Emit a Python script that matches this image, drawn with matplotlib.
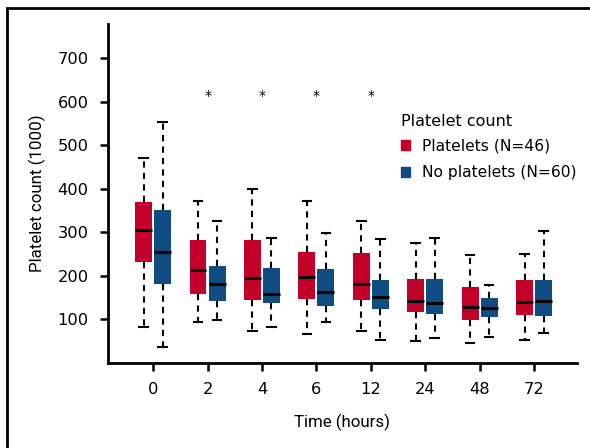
import numpy as np
import matplotlib.pyplot as plt
from matplotlib.patches import Patch, Rectangle

times = ['0', '2', '4', '6', '12', '24', '48', '72']

# whisker low, Q1, median, Q3, whisker high
plt_low = [83, 95, 74, 66, 74, 50, 46, 52]
plt_q1 = [231, 159, 144, 147, 144, 118, 98, 109]
plt_med = [306, 213, 195, 198, 182, 143, 128, 140]
plt_q3 = [370, 283, 283, 255, 252, 193, 175, 191]
plt_high = [471, 372, 400, 371, 325, 276, 248, 251]

no_low = [37, 99, 82, 94, 52, 58, 59, 68]
no_q1 = [182, 141, 137, 130, 123, 112, 105, 107]
no_med = [255, 181, 159, 163, 151, 138, 126, 141]
no_q3 = [352, 223, 218, 216, 190, 193, 149, 191]
no_high = [553, 326, 288, 298, 284, 286, 180, 303]

star_groups = ['2', '4', '6', '12']
star_y = 614

RED = '#C20029'
BLUE = '#0F4C81'


def stats(low, q1, med, q3, high):
    return [dict(whislo=a, q1=b, med=c, q3=d, whishi=e, fliers=[])
            for a, b, c, d, e in zip(low, q1, med, q3, high)]


fig = plt.figure(figsize=(5.9, 4.48), dpi=100)
ax = fig.add_axes([0.183, 0.19, 0.795, 0.756])

pos = np.arange(len(times))
for data, off, color in [(stats(plt_low, plt_q1, plt_med, plt_q3, plt_high), -0.175, RED),
                         (stats(no_low, no_q1, no_med, no_q3, no_high), 0.175, BLUE)]:
    ax.bxp(data, positions=pos + off, widths=0.31, patch_artist=True,
           showfliers=False, manage_ticks=False,
           boxprops=dict(facecolor=color, edgecolor=color, linewidth=0),
           medianprops=dict(color='black', linewidth=2.2),
           whiskerprops=dict(color='black', linewidth=1.5, linestyle=(0, (3, 2.5))),
           capprops=dict(color='black', linewidth=1.5),
           capwidths=0.16)

for g in star_groups:
    ax.text(times.index(g), star_y, '*', ha='center', va='center', fontsize=10)

ax.set_xlim(-0.83, 7.79)
ax.set_ylim(0, 778)
ax.set_xticks(pos)
ax.set_xticklabels(times)
ax.set_yticks([100, 200, 300, 400, 500, 600, 700])
for s in ['top', 'right']:
    ax.spines[s].set_visible(False)
for s in ['left', 'bottom']:
    ax.spines[s].set_linewidth(2)
ax.tick_params(width=1.8, length=6, labelsize=11.7, pad=8)

ax.set_xlabel('Time (hours)', fontsize=12.2, family='Roboto', labelpad=12)
ax.set_ylabel('Platelet count (1000)', fontsize=12.2, family='Roboto', labelpad=8)

handles = [Patch(color=RED, label='Platelets (N=46)'),
           Patch(color=BLUE, label='No platelets (N=60)')]
leg = ax.legend(handles=handles, title='Platelet count', loc='upper left',
                bbox_to_anchor=(401 / 590, 1 - 114 / 448), bbox_transform=fig.transFigure,
                frameon=False, handlelength=0.6, handleheight=0.6,
                handletextpad=0.75, borderpad=0, borderaxespad=0,
                labelspacing=0.75, fontsize=11.2, title_fontsize=11.5)
leg._legend_box.align = 'left'
leg._legend_box.sep = 7

fig.add_artist(Rectangle((7 / 590, -0.1), 1.2, 1.1 - 8 / 448, transform=fig.transFigure,
                         fill=False, edgecolor='black', linewidth=2))

plt.savefig('out.png', dpi=100)
